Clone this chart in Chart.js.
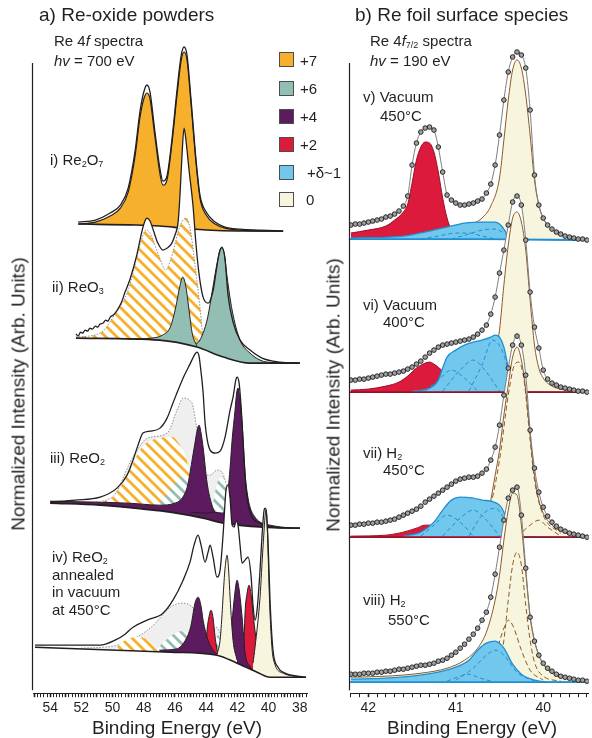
<!DOCTYPE html>
<html lang="en">
<head>
<meta charset="utf-8">
<title>Re 4f spectra</title>
<script src="https://cdn.jsdelivr.net/npm/chart.js@4.4.1/dist/chart.umd.min.js"></script>
<style>
  body { margin: 0; width: 592px; height: 738px; position: relative; overflow: hidden; background: #fff;
         font-family: "Liberation Sans", Arial, sans-serif; color: #231f20; }
  canvas { position: absolute; top: 0; }
  .txt { position: absolute; white-space: nowrap; line-height: 1; }
  .t19 { font-size: 19px; }
  .t15 { font-size: 15px; }
  sub { font-size: 0.6em; vertical-align: -0.25em; line-height: 0; }
  .centro { transform: translate(-50%, -50%); }
  .vertical { transform: translate(-50%, -50%) rotate(-90deg); }
  .cuadro { position: absolute; left: 279px; width: 13px; height: 13px; border: 1px solid #4d4d4d; }
</style>
</head>
<body>
<canvas id="graficaA" width="320" height="738" style="left:0"></canvas>
<canvas id="graficaB" width="272" height="738" style="left:320px"></canvas>

<div class="txt t19" style="left:39px;top:5px">a) Re-oxide powders</div>
<div class="txt t19" style="left:355px;top:5px">b) Re foil surface species</div>
<div class="txt t15" style="left:54px;top:33px">Re 4<i>f</i> spectra</div>
<div class="txt t15" style="left:54px;top:53px"><i>hv</i> = 700 eV</div>
<div class="txt t15" style="left:370px;top:33px">Re 4<i>f</i><sub>7/2</sub> spectra</div>
<div class="txt t15" style="left:370px;top:53px"><i>hv</i> = 190 eV</div>

<div class="cuadro" style="top:52px;background:#F7B02B"></div>
<div class="cuadro" style="top:81px;background:#93BEB3"></div>
<div class="cuadro" style="top:109px;background:#5B1B5E"></div>
<div class="cuadro" style="top:137px;background:#DC1A3C"></div>
<div class="cuadro" style="top:165px;background:#71C7EC"></div>
<div class="cuadro" style="top:192px;background:#F7F5DD"></div>
<div class="txt t15" style="left:300px;top:53px">+7</div>
<div class="txt t15" style="left:300px;top:81px">+6</div>
<div class="txt t15" style="left:300px;top:109px">+4</div>
<div class="txt t15" style="left:300px;top:137px">+2</div>
<div class="txt t15" style="left:307px;top:165px">+δ~1</div>
<div class="txt t15" style="left:306px;top:192px">0</div>

<div class="txt t15" style="left:50px;top:152px">i) Re<sub>2</sub>O<sub>7</sub></div>
<div class="txt t15" style="left:52px;top:279px">ii) ReO<sub>3</sub></div>
<div class="txt t15" style="left:50px;top:450px">iii) ReO<sub>2</sub></div>
<div class="txt t15" style="left:52px;top:549px">iv) ReO<sub>2</sub></div>
<div class="txt t15" style="left:52px;top:567px">annealed</div>
<div class="txt t15" style="left:52px;top:584px">in vacuum</div>
<div class="txt t15" style="left:52px;top:602px">at 450°C</div>

<div class="txt t15" style="left:363px;top:89px">v) Vacuum</div>
<div class="txt t15" style="left:380px;top:108px">450°C</div>
<div class="txt t15" style="left:363px;top:297px">vi) Vacuum</div>
<div class="txt t15" style="left:383px;top:314px">400°C</div>
<div class="txt t15" style="left:363px;top:445px">vii) H<sub>2</sub></div>
<div class="txt t15" style="left:383px;top:462px">450°C</div>
<div class="txt t15" style="left:363px;top:592px">viii) H<sub>2</sub></div>
<div class="txt t15" style="left:388px;top:612px">550°C</div>

<div class="txt t19 centro" style="left:177px;top:727px">Binding Energy (eV)</div>
<div class="txt t19 centro" style="left:472px;top:727px">Binding Energy (eV)</div>
<div class="txt t19 vertical" style="left:18px;top:394px">Normalized Intensity (Arb. Units)</div>
<div class="txt t19 vertical" style="left:333px;top:395px">Normalized Intensity (Arb. Units)</div>

<script>
const fuente = '"Liberation Sans", Arial, sans-serif';
const tinta = '#231f20';

// ---- a) polvos: pares [energia de enlace (eV), intensidad]
const datosI = [[52.2,471],[51.1,473],[50.15,480],[49.5,488],[49.0,505],[48.55,543],[48.25,581],[48.0,601],[47.8,608],[47.6,601],[47.3,563],[46.95,523],[46.77,512],[46.5,518],[46.2,553],[45.87,603],[45.6,638],[45.42,646],[45.23,638],[44.97,593],[44.65,533],[44.4,498],[44.0,481],[43.43,471],[42.8,466],[41.83,464],[40.55,463],[39.07,462]];
const ajusteI = [[52.2,469],[51.1,471],[50.15,477],[49.5,485],[49.0,501],[48.55,538],[48.25,575],[48.0,594],[47.8,600],[47.6,594],[47.3,558],[46.95,518],[46.77,508],[46.5,514],[46.2,549],[45.87,598],[45.6,633],[45.42,641],[45.23,633],[44.97,589],[44.65,530],[44.4,495],[44.0,478],[43.43,469],[42.8,465],[41.83,463],[40.55,462],[39.07,462]];
const fondoI = [[52.2,469],[48.5,468],[47.0,467],[45.5,465],[44.0,463],[42.0,462],[39.07,462]];

const datosII = [[52.35,359],[52.2,357],[52.05,361],[51.9,360],[51.77,363],[51.6,362],[51.45,365],[51.3,364],[51.1,367],[50.95,366],[50.8,369],[50.6,370],[50.45,373],[50.3,372],[50.15,376],[49.95,378],[49.7,383],[49.45,390],[49.2,401],[48.9,413],[48.45,438],[48.1,463],[47.9,473],[47.8,475],[47.6,472],[47.35,461],[47.1,450],[46.77,443],[46.5,445],[46.2,450],[46.0,458],[45.8,471],[45.68,498],[45.55,538],[45.42,565],[45.3,553],[45.1,523],[44.85,488],[44.65,448],[44.45,418],[44.2,396],[43.88,390],[43.55,403],[43.37,421],[43.18,439],[43.0,446],[42.8,435],[42.6,398],[42.28,371],[41.83,353],[41.19,343],[40.42,335],[39.27,331],[38.0,330]];
const fondoII = [[52.35,355],[47.0,353],[44.6,346],[42.9,336],[41.2,330],[38.0,330]];
const re7II = [[52.35,356],[50.8,360],[49.8,380],[49.0,403],[48.45,435],[48.1,456],[47.85,463],[47.6,460],[47.0,436],[46.6,423],[46.15,440],[45.7,466],[45.3,475],[45.05,466],[44.7,426],[44.4,386],[44.2,356],[43.9,343]];
const re6IIa = [[49.0,354],[47.5,355],[46.8,358],[46.3,366],[45.95,386],[45.7,406],[45.5,416],[45.3,406],[45.1,383],[44.9,360],[44.6,347]];
const re6IIb = [[48.5,353.5],[47.0,354.5],[45.5,352],[44.6,350],[44.2,360],[43.9,376],[43.6,403],[43.3,430],[43.05,445],[42.85,440],[42.66,416],[42.34,383],[41.83,353],[41.19,340],[40.55,333],[40.1,331],[38.0,330]];

const datosIII = [[54.0,191],[52.4,193],[50.8,196],[49.72,205],[49.07,218],[48.69,233],[48.37,248],[48.05,260],[47.6,262],[46.96,265],[46.51,275],[46.13,290],[45.8,303],[45.42,317],[45.04,329],[44.72,339],[44.59,341],[44.46,337],[44.33,321],[44.2,301],[44.07,270],[43.75,243],[43.43,240],[43.11,242],[42.79,256],[42.47,283],[42.28,296],[42.09,314],[42.02,316],[41.9,311],[41.77,288],[41.64,253],[41.45,205],[41.19,181],[40.55,170],[39.91,166],[37.99,165]];
const fondoIII = [[54.0,190],[50.8,188],[48.0,184],[46.3,181],[44.2,175],[42.9,170],[40.36,166],[37.99,165]];
const grisIII = [[52.0,190],[50.1,195],[48.7,236],[47.75,255],[46.5,260],[45.87,283],[45.48,295],[44.91,290],[44.59,263],[44.3,235],[44.0,218],[43.75,218],[43.31,223],[42.98,221],[42.79,213],[42.66,203],[42.5,185],[42.3,173]];
const re7III = [[51.0,191],[50.0,196],[49.0,220],[48.1,246],[47.0,255],[46.2,256],[45.6,246],[45.3,236],[45.0,215],[44.7,190],[44.5,179]];
const re6IIIa = [[47.5,183],[47.0,190],[46.5,200],[46.0,210],[45.6,216],[45.0,214],[44.6,205],[44.3,190],[44.1,176]];
const re6IIIb = [[43.75,174],[43.5,195],[43.3,210],[43.0,217],[42.8,212],[42.6,195],[42.45,172]];
const re4IIIa = [[54.0,192],[49.0,190],[47.0,188],[46.0,190],[45.5,196],[45.2,207],[45.04,220],[44.85,238],[44.72,250],[44.59,262],[44.46,268],[44.33,260],[44.2,246],[43.94,210],[43.63,188],[43.3,178],[42.9,172],[42.5,170]];
const re4IIIb = [[45.0,181],[44.0,180],[43.56,181],[42.92,180],[42.75,188],[42.6,203],[42.47,225],[42.34,253],[42.15,283],[42.05,300],[41.96,305],[41.85,295],[41.7,270],[41.51,220],[41.35,198],[41.19,186],[40.87,176],[40.55,171],[39.91,168],[38.6,165]];

const datosIV = [[54.97,48],[50.81,48],[49.84,53],[49.2,59],[48.69,66],[47.79,73],[46.77,80],[46.13,93],[45.48,113],[45.04,131],[44.78,148],[44.52,158],[44.33,148],[44.07,131],[43.88,141],[43.75,148],[43.56,136],[43.31,116],[43.11,123],[42.92,158],[42.73,203],[42.6,208],[42.47,195],[42.34,168],[42.21,166],[42.09,172],[41.96,168],[41.83,148],[41.7,130],[41.51,133],[41.32,136],[41.13,118],[41.0,88],[40.87,73],[40.74,83],[40.55,123],[40.42,158],[40.29,183],[40.23,185],[40.16,183],[40.04,153],[39.91,93],[39.72,43],[39.4,26],[38.95,20],[38.18,17],[37.6,16]];
const fondoIV = [[54.97,46],[49.72,43],[46.32,41],[43.31,38],[42.02,30],[40.74,21],[39.91,16],[37.6,16]];
const grisIV = [[52.0,45],[49.7,48],[47.6,65],[46.3,86],[45.55,90],[44.84,85],[44.5,70],[44.2,55],[43.75,60],[43.4,66],[43.1,60],[42.9,45],[42.7,36]];
const re7IV = [[49.9,43],[49.3,52],[48.5,56],[47.8,54],[47.3,47],[47.0,42]];
const re6IVa = [[47.3,42],[46.8,50],[46.2,58],[45.6,62],[45.2,60],[44.9,50],[44.7,41]];
const re6IVb = [[43.7,39],[43.45,52],[43.25,58],[43.05,52],[42.85,38]];
const re4IVa = [[47.0,43],[46.0,44],[45.68,46],[45.23,56],[45.0,66],[44.91,73],[44.72,90],[44.52,96],[44.33,87],[44.2,73],[43.88,53],[43.56,43],[43.2,38]];
const re2IVa = [[44.1,42],[44.0,52],[43.94,64],[43.8,78],[43.69,83],[43.56,75],[43.43,56],[43.24,40],[43.0,37]];
const re0IVa = [[43.3,39],[43.11,53],[42.98,80],[42.92,96],[42.79,125],[42.66,138],[42.55,120],[42.47,96],[42.28,53],[42.02,33]];
const re4IVb = [[43.3,39],[43.0,41],[42.6,50],[42.34,73],[42.2,95],[42.02,113],[41.9,105],[41.7,76],[41.51,40],[41.19,27],[40.87,22]];
const re2IVb = [[41.62,28],[41.51,80],[41.38,100],[41.25,108],[41.12,98],[41.0,80],[40.68,40],[40.36,22],[40.1,17]];
const re0IVb = [[41.0,30],[40.87,46],[40.55,96],[40.36,146],[40.16,183],[39.91,80],[39.72,36],[39.07,20],[37.8,16]];

// ---- b) lamina: puntos medidos sobre la misma rejilla de energias
const energiasB = [42.2,42.15,42.1,42.05,42.0,41.95,41.9,41.85,41.8,41.75,41.7,41.65,41.6,41.55,41.5,41.45,41.4,41.35,41.3,41.25,41.2,41.15,41.1,41.05,41.0,40.95,40.9,40.85,40.8,40.75,40.7,40.65,40.6,40.55,40.5,40.45,40.4,40.35,40.3,40.25,40.2,40.15,40.1,40.05,40.0,39.95,39.9,39.85,39.8,39.75,39.7,39.65,39.6,39.55,39.5];
const datosV = [468,469,469,470,471,472,473,474,476,477,479,482,487,497,528,550,561,565,566,563,546,521,498,493,490,488,488,489,490,492,494,500,509,528,558,593,621,636,641,638,625,583,518,488,475,468,464,461,459,457,456,455,454,454,453];
const datosVI = [313,313,314,314,315,316,317,318,319,319,320,321,322,324,326,329,332,336,340,343,346,348,349,350,351,352,353,354,356,359,363,368,379,396,420,443,468,491,497,488,453,401,366,345,323,314,310,308,306,305,304,303,302,302,301];
const datosVII = [168,168,169,169,170,170,171,171,172,173,174,176,178,180,182,184,187,191,194,197,200,203,206,209,212,214,215,216,216,217,220,224,233,246,268,298,325,348,357,348,318,263,225,201,186,177,171,167,164,162,160,159,158,157,156];
const datosVIII = [19,19,19,20,20,20,21,21,22,22,23,24,24,25,26,27,28,28,29,30,32,33,35,38,41,45,49,54,59,65,73,81,96,119,146,173,195,203,206,178,125,76,52,38,30,25,22,19,17,16,15,14,13,13,12];

const fondoV = [[42.21,454],[40.8,454],[39.48,453]];
const rojoV = [[42.2,460],[42.0,463],[41.8,467],[41.7,473],[41.6,481],[41.55,489],[41.5,510],[41.45,533],[41.4,546],[41.35,551],[41.3,550],[41.25,541],[41.2,521],[41.15,495],[41.1,475],[41.05,463],[41.0,457],[40.9,454]];
const azulV = [[42.2,455],[41.6,457],[41.3,462],[41.1,466],[40.9,470],[40.7,471],[40.55,471],[40.5,469],[40.45,464],[40.4,457],[40.35,454],[39.5,453]];
const cremaV = [[41.0,454],[40.9,460],[40.8,469],[40.7,475],[40.6,487],[40.5,515],[40.45,553],[40.4,593],[40.35,623],[40.3,633],[40.25,625],[40.2,598],[40.15,558],[40.1,513],[40.05,488],[40.0,475],[39.9,464],[39.8,459],[39.7,456],[39.5,453]];
const azulV1 = [[41.4,454],[41.2,457],[41.0,460],[40.85,460],[40.7,457],[40.55,454]];
const azulV2 = [[41.05,454],[40.85,459],[40.7,463],[40.55,464],[40.45,460],[40.35,454]];

const fondoVI = [[42.21,301],[39.48,301]];
const rojoVI = [[42.2,303],[42.0,304],[41.8,307],[41.65,311],[41.55,317],[41.45,325],[41.35,330],[41.3,331],[41.25,329],[41.15,322],[41.05,313],[40.95,306],[40.85,303],[40.7,302]];
const azulVI = [[41.5,302],[41.3,305],[41.2,313],[41.15,325],[41.1,336],[41.0,343],[40.9,348],[40.8,351],[40.7,353],[40.6,356],[40.55,358],[40.5,356],[40.45,346],[40.4,325],[40.35,305],[40.3,302],[39.5,301]];
const cremaVI = [[40.7,304],[40.6,315],[40.55,338],[40.5,363],[40.45,408],[40.4,448],[40.35,475],[40.3,481],[40.25,471],[40.2,443],[40.15,393],[40.1,348],[40.05,325],[40.0,315],[39.9,307],[39.8,304],[39.6,302],[39.5,301]];
const azulVI1 = [[41.35,302],[41.2,313],[41.05,323],[40.9,315],[40.75,302]];
const azulVI2 = [[41.15,302],[40.95,323],[40.8,333],[40.65,321],[40.5,302]];
const azulVI3 = [[40.85,302],[40.7,328],[40.58,353],[40.45,338],[40.35,302]];

const fondoVII = [[42.21,156],[39.48,156]];
const rojoVII = [[42.2,157],[41.8,158],[41.6,161],[41.45,165],[41.35,168],[41.3,168],[41.2,165],[41.1,160],[41.0,157],[40.9,156]];
const azulVII = [[41.6,157],[41.4,161],[41.25,171],[41.15,183],[41.05,193],[40.95,196],[40.8,195],[40.7,193],[40.6,192],[40.5,188],[40.45,181],[40.4,166],[40.35,157],[39.5,156]];
const cremaVII = [[40.75,157],[40.65,173],[40.6,193],[40.55,218],[40.5,243],[40.45,278],[40.4,308],[40.35,336],[40.3,346],[40.25,333],[40.2,303],[40.15,258],[40.1,218],[40.05,193],[40.0,180],[39.9,168],[39.8,162],[39.7,159],[39.5,156]];
const azulVII1 = [[41.4,157],[41.25,168],[41.1,178],[40.95,171],[40.8,157]];
const azulVII2 = [[41.15,157],[40.95,175],[40.8,183],[40.65,173],[40.5,157]];
const azulVII3 = [[40.85,157],[40.7,178],[40.55,185],[40.45,175],[40.35,157]];
const cremaVII1 = [[40.7,157],[40.6,188],[40.5,233],[40.4,298],[40.33,328],[40.28,331],[40.22,313],[40.15,253],[40.1,213],[40.0,178],[39.8,160]];
const cremaVII2 = [[40.3,156],[40.15,168],[40.05,173],[39.95,166],[39.8,157]];

const fondoVIII = [[42.21,11],[39.48,11]];
const azulVIII = [[42.2,14],[41.8,15],[41.5,17],[41.2,21],[41.0,26],[40.85,33],[40.75,43],[40.65,50],[40.55,52],[40.45,45],[40.35,29],[40.25,19],[40.1,13],[39.9,11],[39.5,11]];
const cremaVIII = [[42.2,16],[41.8,17],[41.4,20],[41.1,25],[40.9,33],[40.75,45],[40.65,61],[40.55,93],[40.5,118],[40.45,153],[40.4,183],[40.35,200],[40.3,198],[40.25,168],[40.2,121],[40.15,78],[40.1,53],[40.05,38],[40.0,29],[39.9,20],[39.8,16],[39.6,13],[39.5,12]];
const cremaVIII1 = [[40.5,25],[40.45,53],[40.4,93],[40.35,128],[40.3,141],[40.25,128],[40.2,88],[40.15,53],[40.1,31],[40.0,17],[39.8,12]];
const cremaVIII2 = [[40.65,18],[40.55,38],[40.45,65],[40.4,73],[40.35,68],[40.25,43],[40.15,23],[40.0,13]];
const azulVIII1 = [[41.0,13],[40.8,25],[40.65,38],[40.55,43],[40.45,38],[40.3,21],[40.1,12]];
const azulVIII2 = [[41.1,12],[40.95,17],[40.85,19],[40.75,16],[40.6,12]];

const topeMarco = 630;

let miCanvasA = document.getElementById('graficaA').getContext('2d');
let miCanvasB = document.getElementById('graficaB').getContext('2d');

const naranja = '#F7B02B', teal = '#93BEB3', morado = '#5B1B5E', rojo = '#DC1A3C', azul = '#71C7EC', crema = '#F7F5DD';
const azulLinea = '#1F8FD3', marron = '#8B5A2B', rojoLinea = '#9A1029', nada = 'rgba(0,0,0,0)';

function rayado(color) {
    const t = 11;
    const c = document.createElement('canvas');
    c.width = t; c.height = t;
    const g = c.getContext('2d');
    g.fillStyle = '#ffffff';
    g.fillRect(0, 0, t, t);
    g.strokeStyle = color;
    g.lineWidth = 2.8;
    for (const o of [-t, 0, t]) {
        g.beginPath(); g.moveTo(o - 1, -1); g.lineTo(o + t + 1, t + 1); g.stroke();
    }
    return miCanvasA.createPattern(c, 'repeat');
}
const rayaNaranja = rayado(naranja);
const rayaTeal = rayado(teal);

function puntos(lista) {
    return lista.map(p => ({ x: p[0], y: p[1] }));
}

function trazo(lista, extra) {
    return Object.assign({
        data: lista, borderColor: tinta, borderWidth: 1, backgroundColor: nada, fill: false,
        pointRadius: 0, pointHoverRadius: 0, cubicInterpolationMode: 'monotone', borderJoinStyle: 'round'
    }, extra);
}

function agregar(lista, ds, capa) {
    ds.order = -capa;
    lista.push(ds);
    return lista.length - 1;
}

function espectroA(lista, k, datos, fondo, componentes) {
    const b = agregar(lista, trazo(puntos(fondo), { borderWidth: 1.6 }), k * 100 + 90);
    agregar(lista, trazo(puntos(datos), { borderColor: nada, backgroundColor: '#ffffff', fill: b }), k * 100);
    componentes.forEach((c, i) => {
        agregar(lista, trazo(puntos(c.datos), {
            backgroundColor: c.relleno, fill: b, borderColor: c.borde || tinta,
            borderWidth: c.ancho || 1, borderDash: c.guion || []
        }), k * 100 + 1 + i);
    });
    agregar(lista, trazo(puntos(datos), { borderWidth: 1.3 }), k * 100 + 95);
}

function espectroB(lista, k, valores, fondo, colorFondo, componentes) {
    const medidos = energiasB.map((e, i) => ({ x: e, y: valores[i] }));
    const b = agregar(lista, trazo(puntos(fondo), { borderColor: colorFondo, borderWidth: 1.8 }), k * 100 + 90);
    agregar(lista, trazo(medidos, { borderColor: nada, backgroundColor: '#ffffff', fill: b }), k * 100);
    componentes.forEach((c, i) => {
        agregar(lista, trazo(puntos(c.datos), {
            backgroundColor: c.relleno || nada, fill: c.relleno ? b : false, borderColor: c.borde,
            borderWidth: c.ancho || 1, borderDash: c.guion || []
        }), k * 100 + 1 + i);
    });
    agregar(lista, trazo(medidos, {
        borderColor: '#7d7d7d', borderWidth: 1, pointRadius: 2.3, pointBackgroundColor: '#a0a0a0',
        pointBorderColor: '#262626', pointBorderWidth: 1
    }), k * 100 + 95);
}

const gris = { relleno: '#efefef', borde: '#8f8f8f', guion: [1.5, 1.5] };

let conjuntosA = [];
espectroA(conjuntosA, 0, datosI, fondoI, [
    { datos: ajusteI, relleno: naranja, ancho: 1.2 }
]);
espectroA(conjuntosA, 1, datosII, fondoII, [
    { datos: re7II, relleno: rayaNaranja, borde: '#8f8f8f', guion: [1.5, 1.5] },
    { datos: re6IIb, relleno: teal },
    { datos: re6IIa, relleno: teal }
]);
espectroA(conjuntosA, 2, datosIII, fondoIII, [
    Object.assign({ datos: grisIII }, gris),
    { datos: re7III, relleno: rayaNaranja, borde: nada },
    { datos: re6IIIa, relleno: rayaTeal, borde: nada },
    { datos: re6IIIb, relleno: rayaTeal, borde: nada },
    { datos: re4IIIa, relleno: morado },
    { datos: re4IIIb, relleno: morado }
]);
espectroA(conjuntosA, 3, datosIV, fondoIV, [
    Object.assign({ datos: grisIV }, gris),
    { datos: re7IV, relleno: rayaNaranja, borde: nada },
    { datos: re6IVa, relleno: rayaTeal, borde: nada },
    { datos: re6IVb, relleno: rayaTeal, borde: nada },
    { datos: re2IVa, relleno: rojo },
    { datos: re2IVb, relleno: rojo },
    { datos: re4IVa, relleno: morado },
    { datos: re4IVb, relleno: morado },
    { datos: re0IVa, relleno: crema },
    { datos: re0IVb, relleno: crema }
]);

let conjuntosB = [];
const guionAzul = { borde: azulLinea, guion: [4, 3] };
const guionMarron = { borde: marron, guion: [5, 3] };
espectroB(conjuntosB, 0, datosV, fondoV, azulLinea, [
    { datos: cremaV, relleno: crema, borde: marron },
    { datos: rojoV, relleno: rojo, borde: rojoLinea },
    { datos: azulV, relleno: azul, borde: azulLinea, ancho: 1.3 },
    Object.assign({ datos: azulV1 }, guionAzul),
    Object.assign({ datos: azulV2 }, guionAzul)
]);
espectroB(conjuntosB, 1, datosVI, fondoVI, rojoLinea, [
    { datos: cremaVI, relleno: crema, borde: marron },
    { datos: rojoVI, relleno: rojo, borde: rojoLinea },
    { datos: azulVI, relleno: azul, borde: azulLinea, ancho: 1.3 },
    Object.assign({ datos: azulVI1 }, guionAzul),
    Object.assign({ datos: azulVI2 }, guionAzul),
    Object.assign({ datos: azulVI3 }, guionAzul)
]);
espectroB(conjuntosB, 2, datosVII, fondoVII, rojoLinea, [
    { datos: cremaVII, relleno: crema, borde: marron },
    Object.assign({ datos: cremaVII1 }, guionMarron),
    Object.assign({ datos: cremaVII2 }, guionMarron),
    { datos: rojoVII, relleno: rojo, borde: rojoLinea },
    { datos: azulVII, relleno: azul, borde: azulLinea, ancho: 1.3 },
    Object.assign({ datos: azulVII1 }, guionAzul),
    Object.assign({ datos: azulVII2 }, guionAzul),
    Object.assign({ datos: azulVII3 }, guionAzul)
]);
espectroB(conjuntosB, 3, datosVIII, fondoVIII, azulLinea, [
    { datos: cremaVIII, relleno: crema, borde: marron },
    Object.assign({ datos: cremaVIII1 }, guionMarron),
    Object.assign({ datos: cremaVIII2 }, guionMarron),
    { datos: azulVIII, relleno: azul, borde: azulLinea, ancho: 1.3 },
    Object.assign({ datos: azulVIII1 }, guionAzul),
    Object.assign({ datos: azulVIII2 }, guionAzul)
]);

// linea vertical del marco de cada panel
const marco = {
    id: 'marco',
    afterDraw(chart) {
        const { ctx, chartArea, scales } = chart;
        ctx.save();
        ctx.strokeStyle = tinta;
        ctx.lineWidth = 1.2;
        ctx.beginPath();
        ctx.moveTo(chartArea.left - 0.5, scales.y.getPixelForValue(topeMarco));
        ctx.lineTo(chartArea.left - 0.5, chartArea.bottom - 3);
        ctx.stroke();
        ctx.restore();
    }
};

function esEntero(v) {
    return Math.abs(v - Math.round(v)) < 1e-6;
}

function opciones(minX, maxX, paso, etiqueta, relleno) {
    return {
        responsive: false,
        animation: false,
        events: [],
        layout: { padding: relleno },
        plugins: { legend: { display: false }, tooltip: { enabled: false } },
        scales: {
            x: {
                type: 'linear', reverse: true, min: minX, max: maxX,
                ticks: {
                    stepSize: paso, autoSkip: false, includeBounds: false, maxRotation: 0, padding: 3,
                    color: tinta, font: { family: fuente, size: 14 }, callback: etiqueta
                },
                grid: {
                    drawOnChartArea: false, drawTicks: true, tickLength: 4, tickColor: tinta,
                    tickWidth: ctx => (ctx.tick && esEntero(ctx.tick.value) ? 1.6 : 1)
                },
                border: { display: true, color: tinta, width: 1 }
            },
            y: { display: false, min: 0, max: 653 }
        }
    };
}

let chartA = new Chart(miCanvasA, {
    type: 'line',
    data: { datasets: conjuntosA },
    options: opciones(37.54, 55.1, 0.2, v => (esEntero(v) && Math.round(v) % 2 === 0 ? String(Math.round(v)) : ''),
        { left: 33, right: 13, top: 40, bottom: 18 }),
    plugins: [marco]
});

let chartB = new Chart(miCanvasB, {
    type: 'line',
    data: { datasets: conjuntosB },
    options: opciones(39.48, 42.21, 0.1, v => (esEntero(v) ? String(Math.round(v)) : ''),
        { left: 30, right: 0, top: 40, bottom: 18 }),
    plugins: [marco]
});
</script>
</body>
</html>
